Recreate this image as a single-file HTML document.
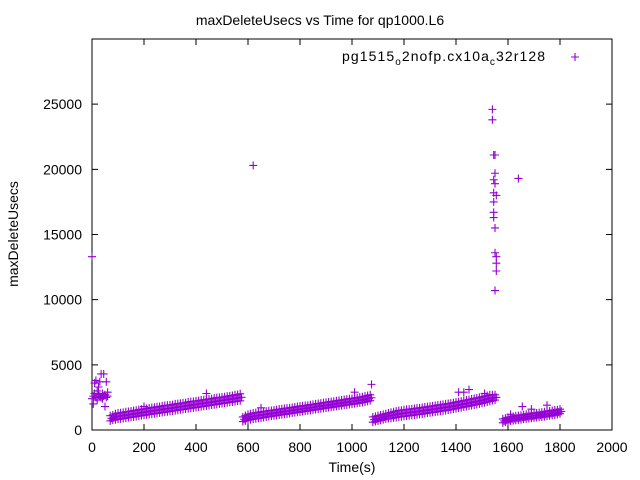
<!DOCTYPE html>
<html><head><meta charset="utf-8"><style>
body{margin:0;background:#fff}
svg{display:block;font-family:"Liberation Sans",sans-serif}
</style></head><body>
<svg id="c" width="640" height="480">
<rect x="0" y="0" width="640" height="480" fill="#fff"/>
<text x="320" y="25" text-anchor="middle" font-size="14">maxDeleteUsecs vs Time for qp1000.L6</text>
<text transform="translate(18,234) rotate(-90)" text-anchor="middle" font-size="14">maxDeleteUsecs</text>
<text x="352" y="472" text-anchor="middle" font-size="14">Time(s)</text>
<g id="axes"></g>
<g id="marks"></g>
<g>
<text x="342" y="61" font-size="14" textLength="203" lengthAdjust="spacing">pg1515<tspan font-size="10" dy="4">o</tspan><tspan dy="-4">2nofp.cx10a</tspan><tspan font-size="10" dy="4">c</tspan><tspan dy="-4">32r128</tspan></text>
<path d="M571 57h8M575 53v8" stroke="#9400d3" stroke-width="1.1"/>
</g>
</svg>
<script>
const xTicks=[0,200,400,600,800,1000,1200,1400,1600,1800,2000];
const yTicks=[0,5000,10000,15000,20000,25000];
const xMax=2000, yMax=30000;
// scattered points
const ptT=[0,0,5,5,10,10,15,15,20,20,25,25,30,30,35,35,40,40,45,45,50,50,55,55,60,60,
200,440,620,650,1010,1075,1410,1430,1450,1510,1610,1655,1690,1750,1640,
1540,1540,1545,1550,1545,1550,1550,1545,1555,1545,1545,1550,1550,1555,1555,1555,1550,1545];
const ptV=[13300,2400,2600,2000,3600,2800,3800,2500,3000,2300,2700,3300,2600,3700,4300,2500,2800,2400,4300,2600,1800,2700,3700,2500,2600,2900,
1800,2800,20300,1700,2900,3500,2900,2900,3100,2800,1200,1800,1600,1900,19300,
24600,23800,21100,21100,19200,19700,18900,18200,18000,16700,16300,15500,13600,13300,12800,12200,10700,17500];
// dense bands
const bT=[70,80,90,100,110,120,130,140,150,160,170,180,190,200,210,220,230,240,250,260,270,280,290,300,310,320,330,340,350,360,370,380,390,400,410,420,430,440,450,460,470,480,490,500,510,520,530,540,550,560,570];
const bLo=[700,760,790,830,850,880,910,950,980,1000,1040,1070,1100,1130,1160,1190,1220,1250,1280,1310,1340,1370,1400,1430,1460,1490,1520,1550,1580,1610,1640,1670,1700,1730,1760,1790,1820,1850,1880,1910,1940,1970,2000,2030,2060,2090,2120,2150,2180,2210,2240];
const bHi=[1100,1150,1250,1300,1320,1350,1400,1420,1450,1500,1520,1560,1600,1620,1650,1700,1720,1750,1780,1800,1850,1880,1900,1920,1950,2000,2020,2050,2080,2100,2150,2180,2200,2230,2250,2300,2320,2350,2380,2400,2450,2480,2500,2520,2550,2600,2620,2650,2700,2720,2780];
const cT=[580,590,600,610,620,630,640,650,660,670,680,690,700,710,720,730,740,750,760,770,780,790,800,810,820,830,840,850,860,870,880,890,900,910,920,930,940,950,960,970,980,990,1000,1010,1020,1030,1040,1050,1060,1070];
const cLo=[650,700,750,800,840,870,900,930,960,1000,1030,1060,1090,1120,1150,1180,1210,1240,1270,1300,1330,1360,1390,1420,1450,1480,1510,1540,1570,1600,1630,1660,1690,1720,1750,1780,1810,1840,1870,1900,1930,1960,1990,2020,2050,2080,2110,2150,2200,2250];
const cHi=[1000,1100,1200,1250,1300,1330,1360,1400,1420,1450,1480,1500,1530,1560,1600,1620,1650,1680,1700,1730,1760,1800,1830,1850,1880,1900,1940,1970,2000,2030,2060,2100,2120,2150,2180,2200,2240,2270,2300,2330,2360,2400,2420,2450,2480,2520,2550,2600,2650,2700];
const dT=[1080,1090,1100,1110,1120,1130,1140,1150,1160,1170,1180,1190,1200,1210,1220,1230,1240,1250,1260,1270,1280,1290,1300,1310,1320,1330,1340,1350,1360,1370,1380,1390,1400,1410,1420,1430,1440,1450,1460,1470,1480,1490,1500,1510,1520,1530,1540,1550];
const dLo=[600,650,700,750,800,850,880,900,930,960,1000,1020,1050,1070,1100,1120,1150,1180,1200,1230,1260,1290,1320,1350,1380,1410,1440,1470,1500,1530,1560,1600,1640,1680,1720,1760,1800,1840,1880,1920,1960,2000,2050,2100,2150,2200,2250,2300];
const dHi=[1000,1050,1100,1150,1200,1250,1300,1350,1400,1450,1500,1520,1550,1580,1600,1620,1650,1680,1700,1730,1760,1790,1820,1850,1880,1910,1940,1970,2000,2030,2060,2100,2140,2180,2220,2260,2300,2340,2380,2420,2460,2500,2550,2600,2650,2700,2700,2700];
const eT=[1580,1590,1600,1610,1620,1630,1640,1650,1660,1670,1680,1690,1700,1710,1720,1730,1740,1750,1760,1770,1780,1790,1800];
const eLo=[550,600,650,700,720,750,780,800,830,860,880,900,930,960,980,1000,1030,1060,1090,1120,1150,1200,1250];
const eHi=[850,900,950,1000,1050,1080,1100,1130,1160,1200,1230,1250,1280,1300,1330,1360,1400,1430,1460,1500,1530,1550,1600];

const L=92,R=612,T=39,B=430;
const X=v=>L+(v/xMax)*(R-L);
const Y=v=>B-(v/yMax)*(B-T);
const NS="http://www.w3.org/2000/svg";
const axes=document.getElementById('axes'),marks=document.getElementById('marks');
function mk(tag,attrs,parent){const e=document.createElementNS(NS,tag);for(const k in attrs)e.setAttribute(k,attrs[k]);parent.appendChild(e);return e;}
const frame=mk('rect',{x:L,y:T,width:R-L,height:B-T,fill:'none',stroke:'#000','stroke-width':1},axes);


xTicks.forEach(v=>{
  const p=mk('path',{d:`M${X(v)} ${B}v-6M${X(v)} ${T}v6`,stroke:'#000'},axes);
  
  
  const t=mk('text',{x:X(v),y:452,'text-anchor':'middle','font-size':14},axes);t.textContent=v;
  
  
});
yTicks.forEach(v=>{
  const p=mk('path',{d:`M${L} ${Y(v)}h6M${R} ${Y(v)}h-6`,stroke:'#000'},axes);
  
  
  const t=mk('text',{x:82,y:Y(v)+5,'text-anchor':'end','font-size':14},axes);t.textContent=v;
  
  
});
function plus(t,v){
  const p=mk('path',{d:`M${X(t)-4} ${Y(v)}h8M${X(t)} ${Y(v)-4}v8`,stroke:'#9400d3','stroke-width':1.1},marks);
  
  
}
ptT.forEach((t,i)=>plus(t,ptV[i]));
[[bT,bLo,bHi],[cT,cLo,cHi],[dT,dLo,dHi],[eT,eLo,eHi]].forEach(([ts,lo,hi])=>{
  ts.forEach((t,i)=>{plus(t,lo[i]);plus(t+5,(lo[i]+hi[i])/2);plus(t,hi[i]);});
});
</script>
</body></html>
